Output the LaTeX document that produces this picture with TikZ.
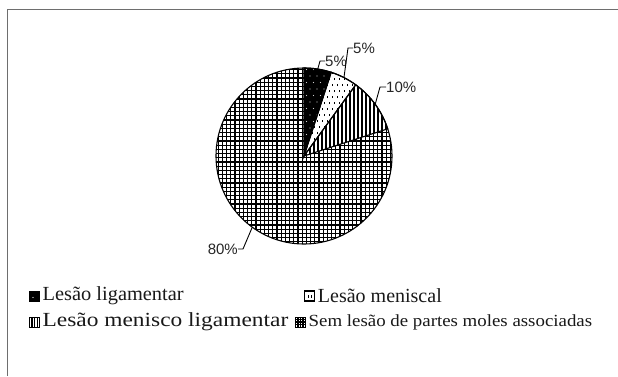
\documentclass[tikz,border=0pt]{standalone}
\usepackage{fontspec}
\usetikzlibrary{calc}
\setmainfont{Liberation Serif}
\newfontfamily\pctfont{Liberation Sans}
\definecolor{framecol}{HTML}{6E6E6E}
\tikzset{
  slicepath/.style={line width=1.1pt, draw=black},
  leader/.style={line width=0.9pt, draw=black},
  pct/.style={font=\pctfont\fontsize{15}{15}\selectfont, inner sep=0pt, text=black!85},
  legicon/.style={minimum size=10pt, inner sep=0pt, line width=0.9pt, draw=black},
  legtext/.style={font=\fontsize{20}{20}\selectfont, inner sep=0pt, anchor=west, text=black!90},
}
\begin{document}
\begin{tikzpicture}[x=1pt,y=1pt]
\useasboundingbox (0,0) rectangle (618,376);
\fill[white] (0,0) rectangle (618,376);
\draw[framecol, line width=1.6pt] (7.5,0) -- (7.5,366.5) -- (618,366.5);

\coordinate (C) at (304,220);
\def\R{88}

% 80% grid slice
\begin{scope}
  \clip (C) -- ++(18:\R) arc[start angle=18, end angle=-270, radius=\R] -- cycle;
  \fill[white] (210,125) rectangle (400,315);
  \foreach \u in {0,...,46} {
    \draw[line width=1.35pt] (214+\u*4.2,125) -- (214+\u*4.2,315);
    \draw[line width=1.35pt] (210,130+\u*4.2) -- (400,130+\u*4.2);
  }
\end{scope}
% 10% vertical lines slice
\begin{scope}
  \clip (C) -- ++(54:\R) arc[start angle=54, end angle=18, radius=\R] -- cycle;
  \fill[white] (300,215) rectangle (400,315);
  \foreach \u in {0,...,24} {
    \draw[line width=1.2pt] (306+\u*4,215) -- (306+\u*4,315);
  }
\end{scope}
% 5% meniscal slice (white with short dashes)
\begin{scope}
  \clip (C) -- ++(72:\R) arc[start angle=72, end angle=54, radius=\R] -- cycle;
  \fill[white] (300,215) rectangle (360,315);
  \foreach \i in {0,...,12} {
    \foreach \j in {0,...,15} {
      \draw[line width=0.8pt] ({302+\i*5+mod(\j,2)*2.5},{218+\j*6}) -- ++(0,2.4);
    }
  }
\end{scope}
% 5% ligament slice (black with white dots)
\begin{scope}
  \clip (C) -- ++(90:\R) arc[start angle=90, end angle=72, radius=\R] -- cycle;
  \fill[black] (300,215) rectangle (340,315);
  \foreach \i in {0,...,6} {
    \foreach \j in {0,...,14} {
      \fill[white!80!black] ({303+\i*7+mod(\j,2)*3.5},{222+\j*6.5}) circle[radius=0.7];
    }
  }
\end{scope}

% slice outlines
\draw[slicepath] (C) -- ++(90:\R) arc[start angle=90, end angle=72, radius=\R] -- cycle;
\draw[slicepath] (C) -- ++(72:\R) arc[start angle=72, end angle=54, radius=\R] -- cycle;
\draw[slicepath] (C) -- ++(54:\R) arc[start angle=54, end angle=18, radius=\R] -- cycle;
\draw[slicepath] (C) circle[radius=\R];

% labels and leaders
\coordinate (e1) at ($(C)+(81:\R)$);
\coordinate (e2) at ($(C)+(63:\R)$);
\coordinate (e3) at ($(C)+(36:\R)$);
\coordinate (e4) at ($(C)+(234:\R)$);
\coordinate (k1) at (320,315);
\coordinate (k2) at (348,328);
\coordinate (k3) at (380,289);
\coordinate (k4) at (243,127);
\node[pct, anchor=west] (l1) at (325,315) {5\%};
\node[pct, anchor=west] (l2) at (353,328) {5\%};
\node[pct, anchor=west] (l3) at (386,289) {10\%};
\node[pct, anchor=east] (l4) at (238,127) {80\%};
\draw[leader] (e1) -- (k1) -- (l1.west);
\draw[leader] (e2) -- (k2) -- (l2.west);
\draw[leader] (e3) -- (k3) -- (l3.west);
\draw[leader] (e4) -- (k4) -- (l4.east);

% legend
\node[legicon, fill=black] (i1) at (34.5,80) {};
\fill[white] (i1.center) ++(-1.5,-1.5) circle[radius=0.6];
\node[legtext] (t1) at ([xshift=2.5pt]i1.east) {\scalebox{1.02}[1]{Lesão ligamentar}};

\node[legicon, line width=1.5pt, fill=white,
  path picture={
    \draw[line width=0.8pt] ([xshift=-1.5pt,yshift=-1.5pt]path picture bounding box.center) -- ++(0,3);
    \draw[line width=0.8pt] ([xshift=1.5pt,yshift=-1.5pt]path picture bounding box.center) -- ++(0,3);}] (i2) at (309.5,80) {};
\node[legtext] (t2) at ([xshift=2.5pt]i2.east) {Lesão meniscal};

\node[legicon, fill=white,
  path picture={\foreach \v in {-2.7,0,2.7} \draw[line width=1.4pt] ([xshift=\v pt]path picture bounding box.south) -- ([xshift=\v pt]path picture bounding box.north);}] (i3) at (34.5,54) {};
\node[legtext] (t3) at ([xshift=2.5pt]i3.east) {\scalebox{1.17}[1]{Lesão menisco ligamentar}};

\node[legicon, fill=white,
  path picture={\foreach \v in {-2.5,0,2.5} {\draw[line width=1.1pt] ([xshift=\v pt]path picture bounding box.south) -- ([xshift=\v pt]path picture bounding box.north);
    \draw[line width=1.1pt] ([yshift=\v pt]path picture bounding box.west) -- ([yshift=\v pt]path picture bounding box.east);}}] (i4) at (300.5,54) {};
\node[legtext, font=\fontsize{17}{17}\selectfont] (t4) at ([xshift=2.5pt]i4.east) {\scalebox{1.11}[1]{Sem lesão de partes moles associadas}};
\end{tikzpicture}
\end{document}
